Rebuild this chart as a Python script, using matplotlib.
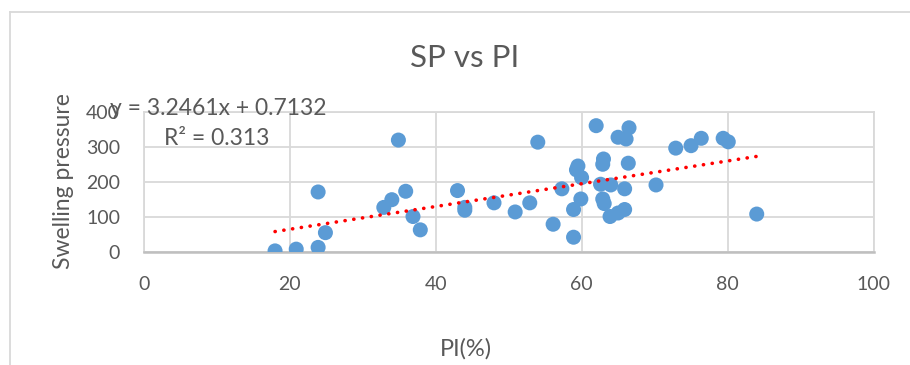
import numpy as np
import matplotlib.pyplot as plt
from matplotlib.lines import Line2D

# datos
pi = [18.0, 20.9, 23.9, 23.9, 24.9, 32.9, 34.0, 34.9, 35.9, 36.9, 37.9, 43.0,
      44.0, 44.0, 48.0, 50.9, 52.9, 54.0, 56.1, 57.3, 58.9, 58.9, 59.3, 59.5,
      59.9, 60.0, 62.0, 62.6, 62.9, 62.9, 63.0, 63.1, 63.9, 64.0, 65.0, 65.0,
      65.9, 65.9, 66.1, 66.4, 66.5, 70.2, 72.9, 75.0, 76.4, 79.4, 80.1, 84.0]
sp = [4, 9, 14, 172, 56, 128, 150, 320, 174, 102, 64, 176,
      120, 128, 141, 115, 141, 314, 80, 181, 43, 122, 235, 246,
      152, 213, 361, 194, 251, 152, 266, 139, 102, 192, 112, 328,
      122, 181, 323, 254, 355, 192, 297, 304, 325, 325, 315, 109]
x_ticks = [0, 20, 40, 60, 80, 100]
y_ticks = [0, 100, 200, 300, 400]

# linea de tendencia
pendiente = 3.2461
intercepto = 0.7132
r2 = 0.313

plt.rcParams['font.family'] = ['Lato', 'DejaVu Sans']
gris = '#595959'

W, H = 910, 365
fig = plt.figure(figsize=(W / 100, H / 100), dpi=100)
ax = fig.add_axes([143.7 / W, 1 - 252.3 / H, (873.5 - 143.7) / W, (252.3 - 112) / H])

ax.scatter(pi, sp, s=117, color='#5B9BD5', edgecolors='none', zorder=3)

xt = np.array([min(pi), max(pi)])
ax.plot(xt, pendiente * xt + intercepto, color='#FF0000', lw=2.6,
        linestyle=(0, (0.05, 2.4)), dash_capstyle='round', zorder=4)

ax.set_xlim(0, 100)
ax.set_ylim(0, 400)
ax.set_xticks(x_ticks)
ax.set_yticks(y_ticks)
ax.tick_params(length=0, labelsize=14, labelcolor=gris, pad=17)
ax.grid(color='#D9D9D9', lw=1.3)
ax.set_axisbelow(True)
for lado in ['left', 'top', 'right']:
    ax.spines[lado].set_color('#D9D9D9')
    ax.spines[lado].set_linewidth(1.3)
ax.spines['bottom'].set_color('#BFBFBF')
ax.spines['bottom'].set_linewidth(1.8)

fig.text(465 / W, 1 - 66.7 / H, 'SP vs PI', ha='center', va='baseline',
         fontsize=22.5, color=gris)
fig.text(466 / W, 1 - 356 / H, 'PI(%)', ha='center', va='baseline',
         fontsize=17, color=gris)
fig.text(63 / W, 1 - 181 / H, 'Swelling pressure', ha='center', va='center',
         rotation=90, fontsize=16.5, color=gris)

ax.text(-4.6, 391, f'y = {pendiente}x + {intercepto}', fontsize=16.5,
        color=gris, va='baseline', ha='left', zorder=5)
ax.text(2.8, 306, f'R² = {r2}', fontsize=16.5, color=gris,
        va='baseline', ha='left', zorder=5)

# marco del area del grafico
fig.add_artist(Line2D([10 / W, 1], [1 - 12 / H, 1 - 12 / H], color='#D9D9D9', lw=1.3))
fig.add_artist(Line2D([10 / W, 10 / W], [0, 1 - 12 / H], color='#D9D9D9', lw=1.3))

fig.savefig('out.png', dpi=100, facecolor='white')
